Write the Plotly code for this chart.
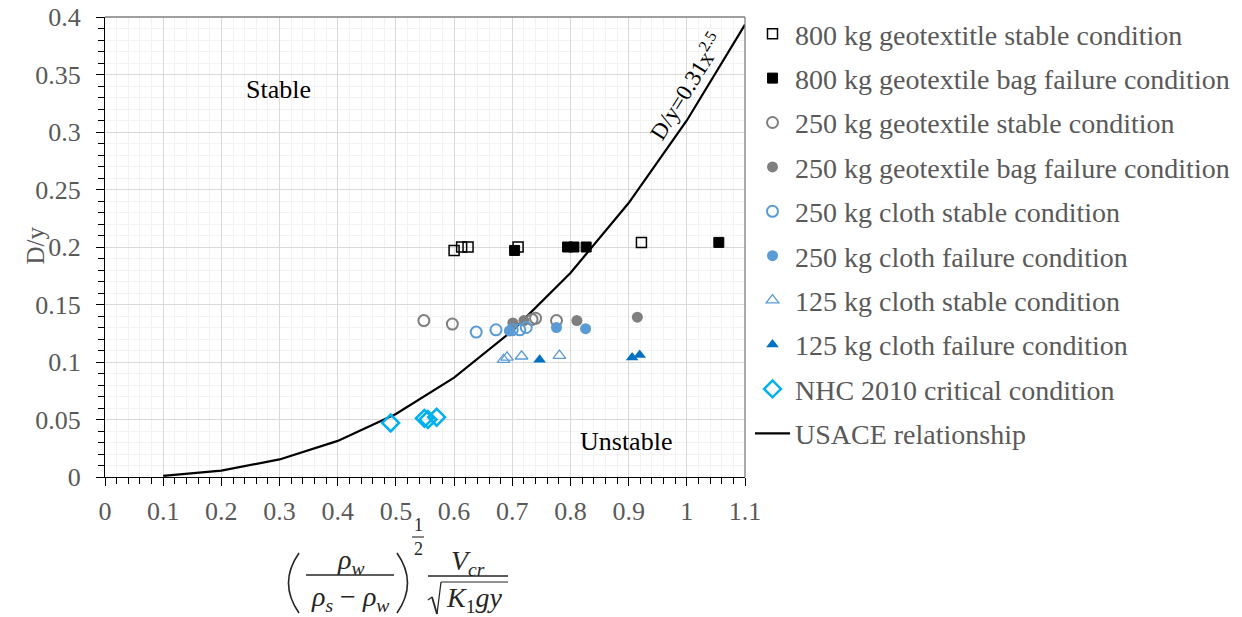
import plotly.graph_objects as go

# ---- data -------------------------------------------------------------
geo800_stable_x = [0.600, 0.613, 0.624, 0.710, 0.922]
geo800_stable_y = [0.197, 0.200, 0.200, 0.200, 0.204]

geo800_fail_x = [0.704, 0.795, 0.806, 0.827, 1.055]
geo800_fail_y = [0.197, 0.200, 0.200, 0.200, 0.204]

geo250_stable_x = [0.548, 0.597, 0.734, 0.740, 0.776]
geo250_stable_y = [0.136, 0.133, 0.137, 0.138, 0.136]

geo250_fail_x = [0.701, 0.720, 0.811, 0.915]
geo250_fail_y = [0.134, 0.136, 0.136, 0.139]

cloth250_stable_x = [0.638, 0.672, 0.700, 0.713, 0.724]
cloth250_stable_y = [0.126, 0.128, 0.128, 0.128, 0.130]

cloth250_fail_x = [0.695, 0.776, 0.826]
cloth250_fail_y = [0.127, 0.130, 0.129]

cloth125_stable_x = [0.685, 0.691, 0.716, 0.781]
cloth125_stable_y = [0.102, 0.104, 0.105, 0.1055]

cloth125_fail_x = [0.747, 0.906, 0.919]
cloth125_fail_y = [0.102, 0.104, 0.106]

nhc_x = [0.491, 0.549, 0.555, 0.570]
nhc_y = [0.047, 0.051, 0.050, 0.052]

# USACE relationship D/y = 0.31 x^2.5
usace_x = [0.1, 0.2, 0.3, 0.4, 0.5, 0.6, 0.7, 0.8, 0.9, 1.0, 1.1]
usace_y = [0.00098, 0.00555, 0.01528, 0.03137, 0.05480, 0.08645,
           0.12707, 0.17741, 0.23822, 0.31000, 0.39338]

x_tickvals = [0, 0.1, 0.2, 0.3, 0.4, 0.5, 0.6, 0.7, 0.8, 0.9, 1.0, 1.1]
x_ticktext = ["0", "0.1", "0.2", "0.3", "0.4", "0.5", "0.6", "0.7", "0.8", "0.9", "1", "1.1"]
y_tickvals = [0, 0.05, 0.1, 0.15, 0.2, 0.25, 0.3, 0.35, 0.4]
y_ticktext = ["0", "0.05", "0.1", "0.15", "0.2", "0.25", "0.3", "0.35", "0.4"]

# ---- styling ----------------------------------------------------------
SERIF = "Liberation Serif"
GRAY_TXT = "#595959"
INK = "#262626"
W, H = 1242, 617
ML, MR, MT, MB = 105, 497, 17, 140
PW, PH = W - ML - MR, H - MT - MB


def px(xp):
    return (xp - ML) / PW


def py(yp):
    return (H - MB - yp) / PH


series = [
    ("800 kg geotextitle stable condition", geo800_stable_x, geo800_stable_y,
     dict(symbol="square-open", size=10, color="black", line=dict(width=1.5, color="black"))),
    ("800 kg geotextile bag failure condition", geo800_fail_x, geo800_fail_y,
     dict(symbol="square", size=10, color="black", line=dict(width=1, color="black"))),
    ("250 kg geotextile stable condition", geo250_stable_x, geo250_stable_y,
     dict(symbol="circle-open", size=11, color="#7f7f7f", line=dict(width=2, color="#7f7f7f"))),
    ("250 kg geotextile bag failure condition", geo250_fail_x, geo250_fail_y,
     dict(symbol="circle", size=11, color="#7f7f7f", line=dict(width=0))),
    ("250 kg cloth stable condition", cloth250_stable_x, cloth250_stable_y,
     dict(symbol="circle-open", size=11, color="#5b9bd5", line=dict(width=2, color="#5b9bd5"))),
    ("250 kg cloth failure condition", cloth250_fail_x, cloth250_fail_y,
     dict(symbol="circle", size=11, color="#5b9bd5", line=dict(width=0))),
    ("125 kg cloth stable condition", cloth125_stable_x, cloth125_stable_y,
     dict(symbol="triangle-up-open", size=11, color="#5b9bd5", line=dict(width=1.3, color="#5b9bd5"))),
    ("125 kg cloth failure condition", cloth125_fail_x, cloth125_fail_y,
     dict(symbol="triangle-up", size=11, color="#0070c0", line=dict(width=0))),
    ("NHC 2010 critical condition", nhc_x, nhc_y,
     dict(symbol="diamond-open", size=13, color="#00b0f0", line=dict(width=2.5, color="#00b0f0"))),
]

fig = go.Figure()

# USACE curve drawn first so the markers sit on top
fig.add_trace(go.Scatter(
    x=usace_x, y=usace_y, mode="lines", name="USACE relationship",
    line=dict(color="black", width=2.2), legendrank=1100, legendgroup="usace",
))

for i, (name, xs, ys, mk) in enumerate(series):
    fig.add_trace(go.Scatter(
        x=xs, y=ys, mode="markers", name=name, marker=mk,
        legendrank=100 + i, legendgroup=f"g{i}",
    ))

axis_common = dict(
    showline=True, linecolor="black", linewidth=1.3,
    ticks="outside", ticklen=8, tickcolor="black", tickwidth=1.3,
    gridcolor="#d9d9d9", gridwidth=1, zeroline=False,
    tickfont=dict(family=SERIF, size=26, color=GRAY_TXT),
)

fig.update_layout(
    width=W, height=H, autosize=False,
    margin=dict(l=ML, r=MR, t=MT, b=MB, pad=0, autoexpand=False),
    paper_bgcolor="white", plot_bgcolor="white",
    font=dict(family=SERIF, color=GRAY_TXT),
    xaxis=dict(
        range=[0, 1.1], tickmode="array", tickvals=x_tickvals, ticktext=x_ticktext,
        ticklabelstandoff=3,
        minor=dict(tick0=0, dtick=0.02, showgrid=True, gridcolor="#f2f2f2",
                   ticks="outside", ticklen=6, tickcolor="black", tickwidth=1.2),
        **axis_common,
    ),
    yaxis=dict(
        range=[0, 0.4], tickmode="array", tickvals=y_tickvals, ticktext=y_ticktext,
        ticklabelstandoff=10,
        minor=dict(tick0=0, dtick=0.01, showgrid=True, gridcolor="#f2f2f2",
                   ticks="outside", ticklen=6, tickcolor="black", tickwidth=1.2),
        **axis_common,
    ),
    # overlay axes carrying the inner half of the crossing major ticks
    xaxis2=dict(
        overlaying="x", anchor="y", side="bottom", range=[0, 1.1],
        tickmode="array", tickvals=x_tickvals, ticks="inside", ticklen=8,
        tickcolor="black", tickwidth=1.3, showticklabels=False,
        showgrid=False, showline=False, zeroline=False,
    ),
    yaxis2=dict(
        overlaying="y", anchor="x", side="left", range=[0, 0.4],
        tickmode="array", tickvals=y_tickvals, ticks="inside", ticklen=8,
        tickcolor="black", tickwidth=1.3, showticklabels=False,
        showgrid=False, showline=False, zeroline=False,
    ),
    legend=dict(
        x=px(750), y=py(9), xanchor="left", yanchor="top",
        font=dict(family=SERIF, size=28, color=GRAY_TXT),
        bgcolor="rgba(0,0,0,0)", borderwidth=0,
        tracegroupgap=5, traceorder="grouped", itemwidth=35,
        maxheight=610,
    ),
    showlegend=True,
)

# top and right frame of the plot area
fig.add_shape(type="line", xref="paper", yref="paper", x0=0, x1=1, y0=1, y1=1,
              line=dict(color="#7f7f7f", width=1.3))
fig.add_shape(type="line", xref="paper", yref="paper", x0=1, x1=1, y0=0, y1=1,
              line=dict(color="#7f7f7f", width=1.3))

# region labels and curve label
fig.add_annotation(x=0.299, y=0.337, xref="x", yref="y", text="Stable", showarrow=False,
                   font=dict(family=SERIF, size=26, color="black"))
fig.add_annotation(x=0.896, y=0.031, xref="x", yref="y", text="Unstable", showarrow=False,
                   font=dict(family=SERIF, size=26, color="black"))
fig.add_annotation(x=0.998, y=0.340, xref="x", yref="y",
                   text="D/y=0.31x<sup>2.5</sup>", showarrow=False, textangle=-58,
                   font=dict(family=SERIF, size=23, color="black"))

# y-axis title
fig.add_annotation(x=px(19), y=py(246), xref="paper", yref="paper", text="D/y",
                   showarrow=False, textangle=-90,
                   font=dict(family=SERIF, size=25, color=GRAY_TXT))

# x-axis title: (rho_w / (rho_s - rho_w))^(1/2) * V_cr / sqrt(K1 g y)


def math_text(xp, yp, text, size=28):
    fig.add_annotation(x=px(xp), y=py(yp), xref="paper", yref="paper", text=text,
                       showarrow=False, font=dict(family=SERIF, size=size, color=INK),
                       xanchor="center", yanchor="middle")


def math_line(x0, y0, x1, y1, w=1.3):
    fig.add_shape(type="line", xref="paper", yref="paper",
                  x0=px(x0), y0=py(y0), x1=px(x1), y1=py(y1),
                  line=dict(color=INK, width=w))


def math_paren(xa, xc, ytop, ybot):
    ym = (ytop + ybot) / 2
    fig.add_shape(type="path", xref="paper", yref="paper",
                  path=f"M {px(xa)},{py(ytop)} Q {px(xc)},{py(ym)} {px(xa)},{py(ybot)}",
                  line=dict(color=INK, width=1.6))


math_paren(299, 278, 553, 613)
math_paren(397, 418, 553, 613)
math_text(351, 561, "<i>ρ<sub>w</sub></i>")
math_line(306, 575, 394, 575)
math_text(350, 598, "<i>ρ<sub>s</sub></i> − <i>ρ<sub>w</sub></i>")
math_text(418, 525, "1", size=18)
math_line(412, 537, 424, 537, w=1.1)
math_text(418, 549, "2", size=18)
math_text(468, 562, "<i>V<sub>cr</sub></i>")
math_line(428, 576, 508, 576)
# radical sign
math_line(428, 600, 432, 597, w=1.2)
math_line(432, 597, 437, 614, w=1.8)
math_line(437, 614, 441, 582, w=1.2)
math_line(441, 582, 508, 582, w=1.2)
math_text(474, 599, "<i>K</i><sub>1</sub><i>gy</i>")

fig.write_html("out.html")
